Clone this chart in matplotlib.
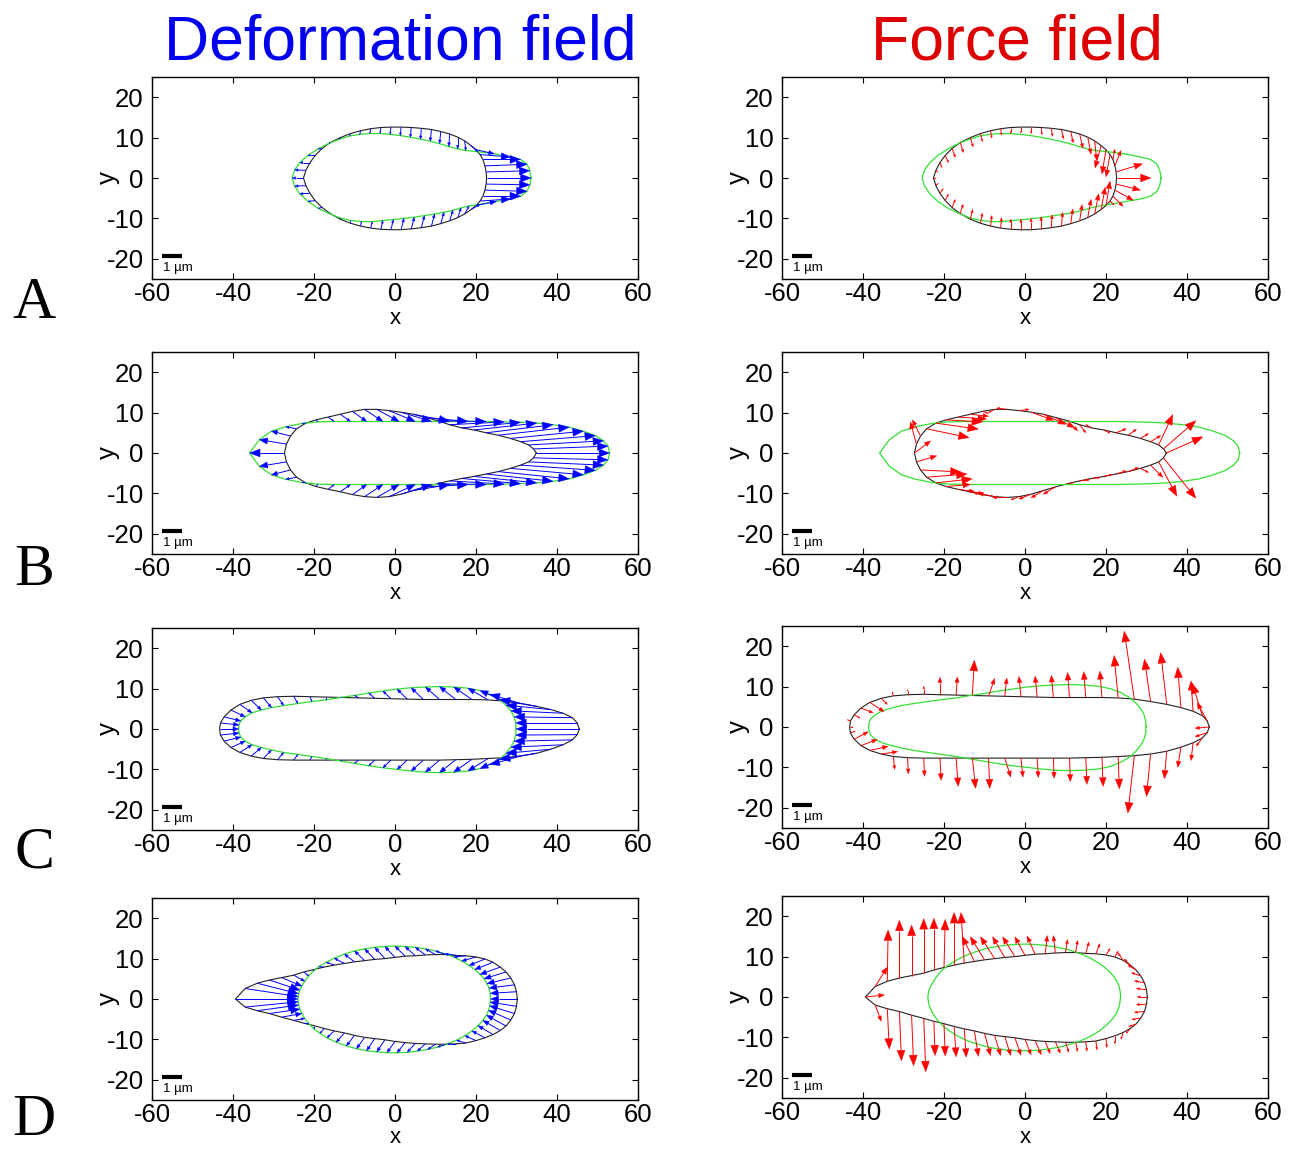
import numpy as np
import matplotlib.pyplot as plt
from matplotlib.collections import LineCollection, PolyCollection

plt.rcParams['font.family'] = ['Liberation Sans', 'DejaVu Sans']
plt.rcParams['axes.unicode_minus'] = False

# ---------------- row A ----------------
# black contour (start shape) and green contour (deformed shape), point i -> point i
a_bx = [22.6, 22.5, 22.2, 21.7, 21.0, 20.0, 18.8, 17.2, 15.5, 13.5, 11.3, 9.0, 6.5, 4.0, 1.5,
        -1.0, -3.5, -6.0, -8.5, -11.0, -13.5, -16.0, -18.0, -19.7, -21.0, -22.0, -22.6, -22.0,
        -21.0, -19.7, -18.0, -16.0, -13.5, -11.0, -8.5, -6.0, -3.5, -1.0, 1.5, 4.0, 6.5, 9.0,
        11.3, 13.5, 15.5, 17.2, 18.8, 20.0, 21.0, 21.7, 22.2, 22.5]
a_by = [0.0, 1.5, 3.0, 4.6, 5.8, 7.0, 8.0, 9.2, 10.1, 10.9, 11.5, 12.0, 12.3, 12.5, 12.6,
        12.6, 12.5, 12.2, 11.7, 11.0, 10.0, 8.8, 7.3, 5.6, 3.8, 1.9, 0.0, -1.9,
        -3.8, -5.6, -7.3, -8.8, -10.2, -11.2, -11.9, -12.4, -12.7, -12.8, -12.8, -12.6, -12.3, -11.9,
        -11.3, -10.6, -9.8, -8.9, -7.8, -6.8, -5.7, -4.5, -3.0, -1.5]
a_gx = [33.6, 33.3, 32.6, 31.0, 28.5, 24.5, 20.5, 17.5, 15.5, 13.3, 11.0, 8.7, 6.3, 3.8, 1.3,
        -1.2, -3.7, -6.2, -8.7, -11.2, -13.7, -16.3, -19.0, -21.5, -23.5, -24.8, -25.4, -24.8,
        -23.5, -21.5, -19.0, -16.2, -13.5, -11.0, -8.3, -5.6, -3.0, -0.4, 2.2, 4.8, 7.3, 9.8,
        12.1, 14.3, 16.3, 18.3, 21.0, 25.0, 28.5, 31.0, 32.6, 33.3]
a_gy = [0.0, 1.8, 3.4, 4.6, 5.2, 6.0, 6.5, 6.8, 7.2, 7.8, 8.5, 9.1, 9.6, 10.1, 10.5,
        10.8, 11.0, 11.0, 10.8, 10.4, 9.6, 8.6, 7.2, 5.6, 3.8, 2.0, 0.0, -2.0,
        -3.9, -5.8, -7.5, -8.8, -9.9, -10.5, -10.8, -10.8, -10.5, -10.3, -10.0, -9.7, -9.3, -8.9,
        -8.5, -8.0, -7.4, -6.9, -6.5, -5.8, -5.2, -4.5, -3.3, -1.7]
# force vectors at the black contour points
a_fu = [8.5, 6.5, 1.5, 0.5, -1.0, -1.0, -1.5, 0.5, 0.8, 0.8, 0.6, 0.5, 0.3, 0.2, 0.0,
        0.0, 0.0, 0.2, 0.3, 0.5, 0.7, 0.8, 0.8, 0.8, 0.5, 0.5, 0.5, 0.6,
        0.8, 0.8, 0.8, 0.7, 0.6, 0.5, 0.3, 0.2, 0.0, 0.0, 0.0, 0.0, 0.2, 0.3,
        0.5, 0.6, 0.8, 1.0, 1.0, 1.0, 1.0, 2.5, 4.5, 6.0]
a_fv = [0.0, 2.0, 3.8, 2.5, -5.5, -6.0, -5.5, -4.8, -4.2, -3.5, -2.8, -2.3, -2.0, -1.8, -1.6,
        -1.5, -1.5, -1.6, -1.8, -2.0, -2.3, -2.5, -2.2, -1.8, -1.2, -0.5, 0.0, 0.6,
        1.2, 1.6, 2.0, 2.3, 2.4, 2.5, 2.6, 2.6, 2.5, 2.6, 2.8, 3.0, 3.2, 3.4,
        3.6, 4.0, 4.5, 5.0, 5.5, 6.0, -1.0, -2.5, -2.5, -1.5]

# ---------------- row B ----------------
b_bx = [34.9, 34.2, 33.0, 31.0, 28.5, 25.5, 22.5, 19.5, 16.5, 13.5, 10.5, 7.5, 4.5, 1.5, -1.5,
        -4.5, -7.5, -10.5, -13.5, -16.5, -19.5, -22.0, -24.3, -25.8, -26.8, -27.3, -26.8, -25.8,
        -24.3, -22.0, -19.5, -16.5, -13.5, -10.5, -7.5, -4.5, -1.5, 1.5, 4.5, 7.5, 10.5, 13.5,
        16.5, 19.5, 22.5, 25.5, 28.5, 31.0, 33.0, 34.2]
b_by = [0.0, 1.0, 2.0, 2.8, 3.6, 4.4, 5.0, 5.7, 6.2, 7.0, 8.0, 8.8, 9.6, 10.1, 10.5,
        10.8, 10.8, 10.3, 9.6, 8.9, 8.2, 7.4, 6.0, 4.2, 2.2, 0.0, -2.2, -4.2,
        -6.0, -7.4, -8.3, -9.0, -9.6, -10.3, -10.8, -11.0, -10.8, -10.2, -9.3, -8.4, -7.6, -6.9,
        -6.3, -5.8, -5.2, -4.6, -3.8, -3.0, -2.2, -1.2]
b_gx = [53.0, 52.6, 51.5, 49.5, 46.5, 43.0, 39.0, 35.0, 31.0, 27.0, 22.5, 18.0, 13.5, 9.0, 5.0,
        1.0, -3.0, -7.0, -11.0, -15.0, -19.0, -23.0, -27.0, -30.5, -33.5, -35.9, -33.5, -30.5,
        -27.0, -23.0, -19.0, -15.0, -11.0, -7.0, -3.0, 1.0, 5.0, 9.0, 13.5, 18.0, 22.5, 27.0,
        31.0, 35.0, 39.0, 43.0, 46.5, 49.5, 51.5, 52.6]
b_gy = [0.0, 1.7, 3.0, 4.3, 5.4, 6.4, 7.0, 7.4, 7.6, 7.7, 7.8, 7.8, 7.8, 7.8, 7.8,
        7.8, 7.8, 7.8, 7.8, 7.8, 7.7, 7.3, 6.5, 5.4, 3.3, 0.0, -3.3, -5.4,
        -6.5, -7.3, -7.7, -7.8, -7.8, -7.8, -7.8, -7.8, -7.8, -7.8, -7.8, -7.8, -7.8, -7.7,
        -7.6, -7.4, -7.0, -6.4, -5.4, -4.3, -3.0, -1.7]
b_fu = [9.0, 8.0, 3.5, 2.5, 2.0, 2.0, 2.5, 1.5, -1.5, 1.5, 2.5, 4.5, 5.5, 5.5, 2.5,
        -2.5, -1.5, 1.5, 4.5, 7.0, 9.0, 10.5, 10.5, -2.0, -1.5, 4.0, 5.0, 10.0,
        10.0, 9.0, 6.0, 4.0, 3.0, -2.0, -4.0, -3.5, -2.0, -3.0, -3.0, -3.0, 1.5, 2.5,
        2.0, 2.0, 2.5, 2.5, 2.0, 3.0, 4.5, 8.0]
b_fv = [4.0, 7.0, 7.5, 1.5, 1.2, 1.5, 1.0, -0.8, 0.8, -2.0, -2.5, -2.5, -2.5, -2.0, 0.3,
        0.3, -0.8, -0.5, -0.5, -0.5, -0.5, -1.5, -2.2, 4.0, 5.5, 3.0, 1.5, -0.5,
        0.8, 1.0, 0.5, -0.5, -0.3, 0.3, 0.8, 0.0, -0.8, -1.2, -1.8, -1.8, 0.3, 0.3,
        0.2, 0.5, 0.8, 1.0, -1.0, -3.0, -8.5, -10.0]

# ---------------- row C ----------------
c_bx = [45.5, 45.0, 43.8, 41.5, 38.5, 35.0, 31.0, 27.0, 23.0, 19.0, 15.0, 11.0, 7.0, 3.0, -1.0,
        -5.0, -9.0, -13.0, -17.0, -21.0, -25.0, -29.0, -32.5, -35.5, -38.3, -40.5, -42.2, -43.1,
        -43.3, -43.1, -42.2, -40.5, -38.3, -35.5, -32.5, -29.0, -25.0, -21.0, -17.0, -13.0, -9.0,
        -5.0, -1.0, 3.0, 7.0, 11.0, 15.0, 19.0, 23.0, 27.0, 31.0, 35.0, 38.5, 41.5, 43.8, 45.0]
c_by = [0.0, 1.5, 2.8, 3.9, 4.8, 5.6, 6.3, 6.9, 7.2, 7.3, 7.3, 7.3, 7.3, 7.4, 7.5,
        7.6, 7.7, 7.8, 7.9, 8.0, 8.1, 8.0, 7.7, 7.1, 6.1, 4.7, 3.0, 1.5,
        0.0, -1.5, -3.0, -4.6, -5.8, -6.7, -7.3, -7.6, -7.7, -7.7, -7.7, -7.7, -7.7,
        -7.7, -7.7, -7.7, -7.7, -7.7, -7.6, -7.5, -7.3, -7.1, -6.7, -6.0, -5.0, -3.9, -2.7, -1.4]
c_gx = [29.9, 29.8, 29.4, 28.6, 27.4, 25.8, 23.5, 21.0, 18.0, 14.5, 11.0, 7.5, 4.0, 0.5, -3.0,
        -6.5, -10.0, -13.5, -17.0, -20.5, -24.0, -27.5, -30.5, -33.0, -35.3, -37.0, -38.1, -38.5,
        -38.6, -38.5, -38.1, -37.0, -35.3, -33.0, -30.5, -27.5, -24.0, -20.5, -17.0, -13.5, -10.0,
        -6.5, -3.0, 0.5, 4.0, 7.5, 11.0, 14.5, 18.0, 21.0, 23.5, 25.8, 27.4, 28.6, 29.4, 29.8]
c_gy = [0.0, 1.5, 3.0, 4.5, 5.9, 7.3, 8.6, 9.5, 10.1, 10.4, 10.5, 10.4, 10.2, 9.9, 9.4,
        8.9, 8.3, 7.8, 7.2, 6.8, 6.3, 5.8, 5.3, 4.7, 4.0, 3.0, 2.0, 1.0,
        0.0, -1.0, -2.0, -3.0, -3.9, -4.6, -5.2, -5.8, -6.3, -6.8, -7.3, -7.9, -8.5,
        -9.1, -9.6, -10.0, -10.4, -10.7, -10.8, -10.7, -10.4, -9.8, -8.8, -7.5, -6.0, -4.5, -3.0, -1.5]
c_fu = [-3.5, -2.5, -2.5, -0.5, -0.8, -1.5, -1.5, -2.5, -1.0, -0.5, -0.5, -0.5, -0.5, -0.5, -0.5,
        0.5, 1.5, 0.5, 0.3, 0.0, 0.0, 0.0, -0.3, 1.5, 3.5, 3.0, 1.5, -0.8,
        0.8, 1.2, 3.5, 4.0, 4.5, 4.0, 0.3, 0.2, 0.2, 0.3, 0.5, 0.8, 0.3,
        1.5, 0.5, 0.3, 0.2, 0.2, 0.3, 0.3, 0.3, -1.6, -1.0, -0.6, -0.8, -0.5, -1.5, -3.0]
c_fv = [-0.3, 4.5, 8.0, 7.5, 10.0, 12.8, 10.5, 16.8, 10.5, 6.5, 6.4, 6.2, 5.5, 5.2, 5.0,
        4.5, 4.3, 8.7, 4.5, 4.3, 2.0, 1.3, 1.0, -1.5, -2.3, -1.2, -0.8, 0.3,
        0.0, 0.5, 1.8, 1.5, 1.0, 0.6, -3.2, -4.0, -4.5, -5.5, -7.0, -7.5, -7.5,
        -4.7, -4.7, -4.8, -5.0, -5.8, -6.6, -7.2, -8.0, -14.2, -10.5, -6.8, -5.0, -4.4, -2.0, -1.0]

# ---------------- row D ----------------
d_bx = [30.2, 30.0, 29.5, 28.6, 27.4, 26.0, 24.2, 22.2, 20.0, 17.5, 15.0, 12.5, 10.0, 7.5, 5.0,
        2.5, 0.0, -2.5, -5.0, -7.5, -10.0, -12.5, -15.0, -17.5, -20.0, -22.5, -25.0, -28.0,
        -31.0, -34.0, -37.0, -39.4,
        -37.0, -34.0, -31.0, -28.0, -25.0, -22.5, -20.0, -17.5, -15.0, -12.5, -10.0, -7.5, -5.0,
        -2.5, 0.0, 2.5, 5.0, 7.5, 10.0, 12.5, 15.0, 17.5, 20.0, 22.2, 24.2, 26.0, 27.4, 28.6,
        29.5, 30.0]
d_by = [0.0, 1.8, 3.5, 5.2, 6.7, 7.9, 9.1, 9.9, 10.4, 10.7, 10.8, 11.0, 11.0, 10.9, 10.7,
        10.6, 10.3, 10.0, 9.8, 9.5, 9.2, 8.8, 8.4, 7.9, 7.3, 6.7, 5.9, 5.3,
        4.7, 3.9, 2.6, 0.0,
        -2.0, -2.9, -3.6, -4.5, -5.3, -6.0, -6.6, -7.3, -7.9, -8.4, -9.0, -9.5, -9.8,
        -10.1, -10.5, -10.8, -11.0, -11.1, -11.2, -11.2, -11.1, -10.9, -10.3, -9.6, -8.8, -7.8, -6.7, -5.2,
        -3.6, -1.8]
d_gx = [23.6, 23.5, 23.2, 22.7, 22.0, 21.0, 19.7, 18.3, 16.5, 14.5, 12.3, 10.0, 7.5, 5.0, 2.5,
        0.0, -2.5, -5.0, -7.5, -10.0, -12.5, -15.0, -17.0, -18.8, -20.2, -21.3, -22.3, -23.0,
        -23.5, -23.8, -23.9, -24.0,
        -23.9, -23.8, -23.5, -23.0, -22.3, -21.3, -20.0, -18.5, -16.8, -14.5, -12.0, -9.5, -7.0,
        -4.5, -2.0, 0.5, 3.0, 5.5, 8.0, 10.5, 13.0, 15.2, 17.3, 19.0, 20.5, 21.7, 22.6, 23.1,
        23.4, 23.5]
d_gy = [0.0, 1.4, 2.7, 3.8, 5.0, 6.1, 7.3, 8.3, 9.4, 10.4, 11.2, 11.9, 12.4, 12.8, 13.0,
        13.1, 13.0, 12.8, 12.4, 11.9, 11.1, 10.1, 9.1, 8.0, 6.9, 5.7, 4.4, 3.2,
        2.2, 1.3, 0.6, 0.0,
        -0.7, -1.5, -2.5, -3.6, -4.8, -6.1, -7.4, -8.5, -9.6, -10.7, -11.6, -12.3, -12.8,
        -13.1, -13.3, -13.3, -13.2, -12.9, -12.5, -11.9, -11.1, -10.2, -9.1, -7.9, -6.6, -5.3, -4.0, -2.8,
        -1.7, -0.8]
d_fu = [-2.5, -2.5, -2.5, -2.3, -2.0, -1.5, -1.2, 0.8, 1.0, 1.0, 0.8, 0.5, 0.5, -0.5, 0.5,
        -2.0, -2.5, -3.0, -3.0, -3.5, -3.5, -3.0, -0.8, 0.0, 0.3, 0.0, 0.0, 0.0,
        0.0, 0.2, 3.0, 4.7,
        1.5, 0.5, 0.5, 0.5, 0.5, 0.3, 0.3, 0.5, 0.5, 1.0, 1.5, 1.5, 1.5,
        1.5, 1.5, 1.5, 1.2, 1.2, 0.8, 0.5, 0.3, 0.3, 0.2, 0.0, -0.5, -1.0, -1.8, -2.2,
        -2.5, -2.5]
d_fv = [0.0, 0.3, 0.5, 0.8, 1.2, 1.5, 1.8, 1.5, 1.6, 2.5, 2.8, 3.0, 3.2, 4.3, 4.5,
        4.5, 4.6, 4.9, 5.1, 5.4, 5.7, 6.2, 12.5, 13.0, 11.9, 12.8, 13.5, 12.5,
        14.3, 12.7, 4.8, 0.5,
        -4.0, -10.0, -12.2, -12.5, -13.2, -8.5, -8.0, -7.5, -7.0, -6.3, -5.5, -5.0, -4.7,
        -4.3, -3.8, -3.5, -3.0, -2.8, -2.5, -2.3, -2.3, -2.2, -2.2, -2.0, -1.7, -1.2, -0.6, -0.4,
        -0.2, -0.1]

rows = [
    (a_bx, a_by, a_gx, a_gy, a_fu, a_fv),
    (b_bx, b_by, b_gx, b_gy, b_fu, b_fv),
    (c_bx, c_by, c_gx, c_gy, c_fu, c_fv),
    (d_bx, d_by, d_gx, d_gy, d_fu, d_fv),
]
letters = ['A', 'B', 'C', 'D']

W, H = 1303, 1149
fig = plt.figure(figsize=(W / 100, H / 100), dpi=100)


def arrows(ax, x, y, u, v, color, lw=0.7):
    x, y, u, v = (np.asarray(t, float) for t in (x, y, u, v))
    L = np.hypot(u, v)
    m = L > 0.05
    x, y, u, v, L = x[m], y[m], u[m], v[m], L[m]
    ex, ey = u / L, v / L
    hl = np.minimum(0.3 * L, 2.6)
    hw = 0.38 * hl
    tx, ty = x + u, y + v
    sx, sy = tx - hl * ex, ty - hl * ey
    shafts = [[(x0, y0), (x1, y1)] for x0, y0, x1, y1 in zip(x, y, sx, sy)]
    heads = [[(a, b), (c - w * f, d + w * e), (c + w * f, d - w * e)]
             for a, b, c, d, w, e, f in zip(tx, ty, sx, sy, hw, ex, ey)]
    ax.add_collection(LineCollection(shafts, colors=color, linewidths=lw, zorder=3))
    ax.add_collection(PolyCollection(heads, facecolors=color, edgecolors=color,
                                     linewidths=0.3, zorder=4))


def setup(ax, xlab_y):
    ax.set_xlim(-60, 60)
    ax.set_ylim(-25, 25)
    ax.set_xticks(range(-60, 61, 20))
    ax.set_yticks([-20, -10, 0, 10, 20])
    ax.tick_params(direction='in', top=True, right=True, length=4, width=0.8, labelsize=18.5)
    ax.tick_params(axis='x', pad=2)
    ax.tick_params(axis='y', pad=6)
    for s in ax.spines.values():
        s.set_linewidth(1.0)
    ax.set_xlabel('x', fontsize=16)
    ax.set_ylabel('y', fontsize=18.5)
    ax.xaxis.set_label_coords(0.5, xlab_y)
    ax.yaxis.set_label_coords(-0.066, 0.5)
    # scale bar
    ax.plot([-57.5, -52.5], [-19.3, -19.3], color='black', lw=3, solid_capstyle='butt')
    ax.text(-57.3, -22.2, '1 µm', fontsize=9.5, va='center', ha='left')


def closed(v):
    return list(v) + [v[0]]


left_tops = [77, 352, 628, 898]
right_tops = [77, 352, 626, 896]
letter_base = [318, 585, 868, 1135]
xlab_left = [-0.146, -0.146, -0.146, -0.136]

for i, (bx, by, gx, gy, fu, fv) in enumerate(rows):
    axl = fig.add_axes([152 / W, 1 - (left_tops[i] + 202) / H, 486 / W, 202 / H])
    axr = fig.add_axes([782 / W, 1 - (right_tops[i] + 202) / H, 486 / W, 202 / H])
    setup(axl, xlab_left[i])
    setup(axr, -0.146)
    for ax in (axl, axr):
        ax.plot(closed(bx), closed(by), color='#222222', lw=0.8, zorder=2)
        ax.plot(closed(gx), closed(gy), color='#33e033', lw=0.9, zorder=2)
    du = np.array(gx) - np.array(bx)
    dv = np.array(gy) - np.array(by)
    arrows(axl, bx, by, du, dv, '#0000ff')
    arrows(axr, bx, by, fu, fv, '#ff0000')
    fig.text(34 / W, 1 - letter_base[i] / H, letters[i], fontsize=43,
             family='Liberation Serif', ha='center', va='baseline')

fig.text(400 / W, 1 - 60 / H, 'Deformation field', color='#0000ee', fontsize=45,
         ha='center', va='baseline')
fig.text(1017 / W, 1 - 60 / H, 'Force field', color='#dd0000', fontsize=45,
         ha='center', va='baseline')

fig.savefig('out.png', dpi=100)
